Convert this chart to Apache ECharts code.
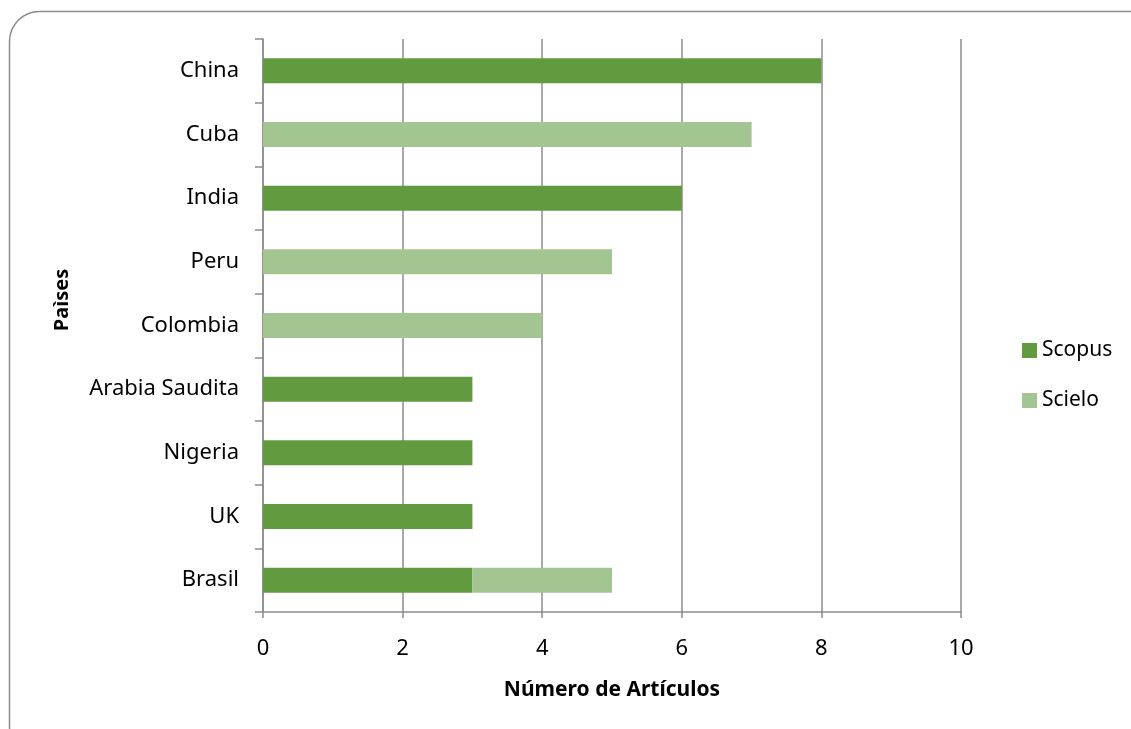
<!DOCTYPE html>
<html>
<head>
<meta charset="utf-8">
<script src="https://cdn.jsdelivr.net/npm/echarts@6/dist/echarts.min.js"></script>
<style>html,body{margin:0;padding:0;background:#fff}#c{width:1131px;height:729px}</style>
</head>
<body>
<div id="c"></div>
<script>
const categories = ['China', 'Cuba', 'India', 'Peru', 'Colombia', 'Arabia Saudita', 'Nigeria', 'UK', 'Brasil'];
const scopus = [8, 0, 6, 0, 0, 3, 3, 3, 3];
const scielo = [0, 7, 0, 5, 4, 0, 0, 0, 2];
const xTicks = [0, 2, 4, 6, 8, 10];

const FONT = 'Noto Sans';
const chart = echarts.init(document.getElementById('c'));
chart.setOption({
  animation: false,
  backgroundColor: '#fff',
  graphic: [{
    type: 'rect', left: 7, top: 9,
    shape: { width: 1150, height: 745, r: 30 },
    style: { fill: 'none', stroke: '#8c8c8c', lineWidth: 1.5 }
  }, {
    type: 'text', x: 62, y: 300, rotation: Math.PI / 2,
    style: { text: 'Paìses', font: 'bold 20px "Noto Sans"', fill: '#000',
      align: 'center', verticalAlign: 'middle' }
  }],
  grid: { left: 263, right: 170, top: 39, bottom: 117, containLabel: false },
  legend: {
    orient: 'vertical', left: 1017, top: 335,
    itemWidth: 15, itemHeight: 15, itemGap: 29,
    icon: 'rect',
    textStyle: { fontFamily: FONT, fontSize: 21, color: '#000' },
    data: ['Scopus', 'Scielo']
  },
  xAxis: {
    type: 'value', min: xTicks[0], max: xTicks[xTicks.length - 1], interval: 2,
    name: 'Número de Artículos', nameLocation: 'middle', nameGap: 68,
    nameTextStyle: { fontFamily: FONT, fontSize: 21, fontWeight: 'bold', color: '#000' },
    axisLine: { show: true, lineStyle: { color: '#8c8c8c', width: 1.5 } },
    axisTick: { show: true, length: 6, lineStyle: { color: '#8c8c8c', width: 1.5 } },
    axisLabel: { fontFamily: FONT, fontSize: 22, color: '#000', margin: 26 },
    splitLine: { show: true, lineStyle: { color: '#8c8c8c', width: 1.5 } }
  },
  yAxis: {
    type: 'category', data: categories, inverse: true,
    axisLine: { show: true, lineStyle: { color: '#8c8c8c', width: 1.5 } },
    axisTick: { show: true, length: 8, lineStyle: { color: '#8c8c8c', width: 1.5 } },
    axisLabel: { fontFamily: FONT, fontSize: 22, color: '#000', margin: 24 }
  },
  series: [
    { name: 'Scopus', type: 'bar', stack: 'a', data: scopus, barWidth: 25,
      itemStyle: { color: '#629b3f' } },
    { name: 'Scielo', type: 'bar', stack: 'a', data: scielo, barWidth: 25,
      itemStyle: { color: '#a3c591' } }
  ]
});
</script>
</body>
</html>
